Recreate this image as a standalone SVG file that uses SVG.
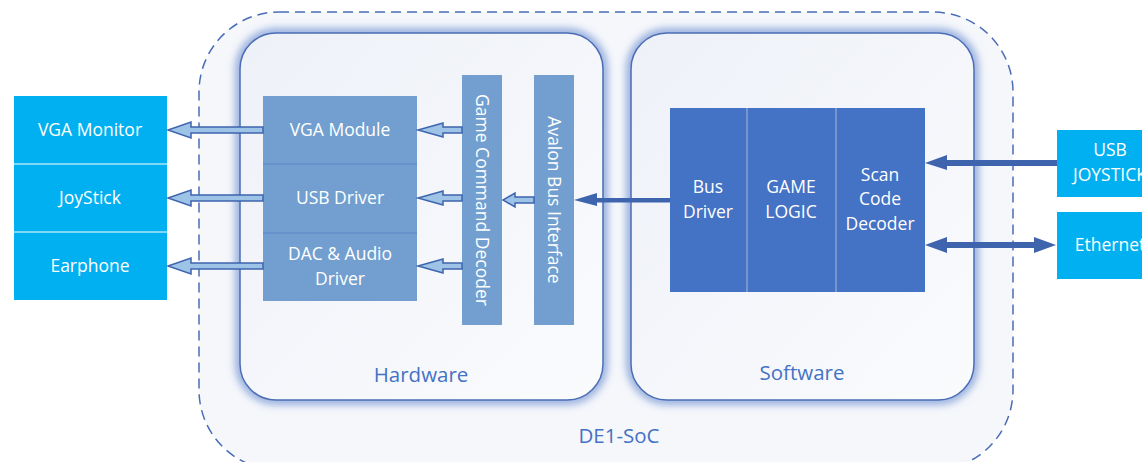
<svg xmlns="http://www.w3.org/2000/svg" width="1142" height="462" viewBox="0 0 1142 462">
<style>
.t{font-family:"Open Sans","Liberation Sans",sans-serif;font-size:17.5px;fill:#fff;text-anchor:middle}
.lbl{font-family:"Open Sans","Liberation Sans",sans-serif;font-size:20.5px;fill:#4472C4;text-anchor:middle}
.cyan{fill:#00B0F0}
.mod{fill:#729FCF}
.sw{fill:#4472C4}
.hollow{fill:#9DC3E6;stroke:#3F64AE;stroke-width:1.5;stroke-linejoin:miter}
.solid{fill:#3F64AE;stroke:none}
</style>
<defs>
<linearGradient id="pg" x1="0" y1="0" x2="1" y2="1">
<stop offset="0" stop-color="#EEF1F8"/>
<stop offset="1" stop-color="#FAFBFD"/>
</linearGradient>
<filter id="glow" x="-10%" y="-10%" width="120%" height="120%">
<feGaussianBlur stdDeviation="4"/>
</filter>
</defs>
<rect width="1142" height="462" fill="#fff"/>
<g id="de1soc">
<rect x="199" y="12" width="814" height="458" rx="80" fill="#F5F7FB" stroke="#4A6DB5" stroke-width="1.5" stroke-dasharray="10 6"/>
<text class="lbl" x="619" y="443">DE1-SoC</text>
</g>
<g id="hardware">
<rect x="240" y="33" width="363" height="367" rx="36" fill="none" stroke="#7E9BD6" stroke-width="8" filter="url(#glow)"/>
<rect x="240" y="33" width="363" height="367" rx="36" fill="url(#pg)" stroke="#4A6DB5" stroke-width="1.5"/>
<text class="lbl" x="421" y="382">Hardware</text>
</g>
<g id="software">
<rect x="631" y="33" width="343" height="367" rx="36" fill="none" stroke="#7E9BD6" stroke-width="8" filter="url(#glow)"/>
<rect x="631" y="33" width="343" height="367" rx="36" fill="url(#pg)" stroke="#4A6DB5" stroke-width="1.5"/>
<text class="lbl" x="802" y="380">Software</text>
</g>
<g id="outputs">
<rect class="cyan" x="14" y="96" width="153" height="204"/>
<line x1="14" y1="164" x2="167" y2="164" stroke="#fff" stroke-width="1"/>
<line x1="14" y1="232" x2="167" y2="232" stroke="#fff" stroke-width="1"/>
<text class="t" x="90" y="136">VGA Monitor</text>
<text class="t" x="90" y="204">JoyStick</text>
<text class="t" x="90" y="272">Earphone</text>
</g>
<g id="hw-modules">
<rect class="mod" x="263" y="96" width="154" height="205"/>
<line x1="263" y1="164" x2="417" y2="164" stroke="#5B87C9" stroke-width="1"/>
<line x1="263" y1="233" x2="417" y2="233" stroke="#5B87C9" stroke-width="1"/>
<text class="t" x="340" y="136">VGA Module</text>
<text class="t" x="340" y="204">USB Driver</text>
<text class="t" x="340" y="260">DAC &amp; Audio</text>
<text class="t" x="340" y="285">Driver</text>
</g>
<g id="game-command-decoder">
<rect class="mod" x="462" y="75" width="40" height="250"/>
<text class="t" transform="translate(482 200) rotate(90)" y="6">Game Command Decoder</text>
</g>
<g id="avalon-bus-interface">
<rect class="mod" x="534" y="75" width="40" height="250"/>
<text class="t" transform="translate(554 200) rotate(90)" y="6">Avalon Bus Interface</text>
</g>
<g id="sw-modules">
<rect class="sw" x="670" y="108" width="255" height="184"/>
<line x1="747" y1="108" x2="747" y2="292" stroke="#A9B8D6" stroke-width="1"/>
<line x1="836" y1="108" x2="836" y2="292" stroke="#A9B8D6" stroke-width="1"/>
<text class="t" x="708" y="193">Bus</text>
<text class="t" x="708" y="218">Driver</text>
<text class="t" x="791" y="193">GAME</text>
<text class="t" x="791" y="218">LOGIC</text>
<text class="t" x="880" y="181">Scan</text>
<text class="t" x="880" y="205">Code</text>
<text class="t" x="880" y="230">Decoder</text>
</g>
<g id="inputs">
<rect class="cyan" x="1057" y="130" width="110" height="67"/>
<text class="t" x="1110" y="156">USB</text>
<text class="t" x="1110" y="181">JOYSTICK</text>
<rect class="cyan" x="1057" y="212" width="110" height="67"/>
<text class="t" x="1110" y="251">Ethernet</text>
</g>
<g id="connectors">
<path class="hollow" d="M263 127 H191 V122 L168 130 L191 138 V133 H263 Z"/>
<path class="hollow" d="M263 195 H191 V190 L168 198 L191 206 V201 H263 Z"/>
<path class="hollow" d="M263 263 H191 V258 L168 266 L191 274 V269 H263 Z"/>
<path class="hollow" d="M462 127 H443 V123 L418 130 L443 137 V133 H462 Z"/>
<path class="hollow" d="M462 195 H443 V191 L418 198 L443 205 V201 H462 Z"/>
<path class="hollow" d="M462 263 H443 V259 L418 266 L443 273 V269 H462 Z"/>
<path class="hollow" d="M534 197 H515 V193 L503 200 L515 207 V203 H534 Z"/>
<path class="solid" d="M670 198 H597 V193 L574 200 L597 206 V202.5 H670 Z"/>
<path class="solid" d="M1057 160 H947 V155 L925 163 L947 170 V166 H1057 Z"/>
<path class="solid" d="M947 242 V237 L925 245 L947 253 V248 H1034 V253 L1056 245 L1034 237 V242 Z"/>
</g>
</svg>
